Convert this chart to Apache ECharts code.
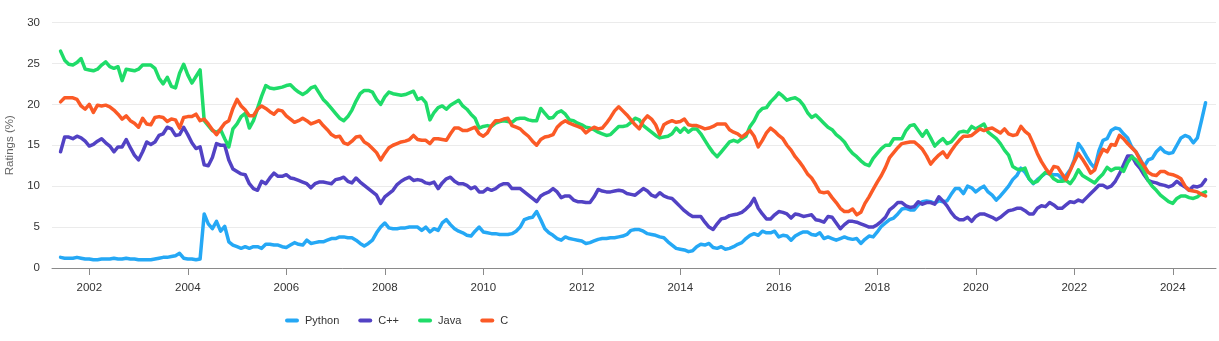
<!DOCTYPE html>
<html>
<head>
<meta charset="utf-8">
<script src="https://cdn.jsdelivr.net/npm/echarts@6/dist/echarts.min.js"></script>
<style>
html,body{margin:0;padding:0;background:#fff;}
#chart{width:1219px;height:341px;}
</style>
</head>
<body>
<div id="chart"></div>
<script>
// Monthly samples, first month = June 2001
const startYear = 2001;
const startMonth = 6;
const seriesNames = ['Python', 'C++', 'Java', 'C'];
const yearTicks = [2002, 2004, 2006, 2008, 2010, 2012, 2014, 2016, 2018, 2020, 2022, 2024];
const yTicks = [0, 5, 10, 15, 20, 25, 30];

const python = [
1.3,1.2,1.2,1.2,1.3,1.2,1.1,1.1,1.0,1.0,1.1,1.1,
1.1,1.2,1.1,1.1,1.2,1.1,1.1,1.0,1.0,1.0,1.0,1.1,
1.2,1.3,1.3,1.4,1.5,1.8,1.2,1.1,1.1,1.0,1.1,6.6,
5.4,4.8,5.7,4.5,5.1,3.2,2.8,2.6,2.4,2.6,2.4,2.6,
2.6,2.4,2.9,2.9,2.8,2.8,2.6,2.5,2.8,3.1,2.9,2.8,
3.4,3.0,3.1,3.2,3.2,3.4,3.6,3.6,3.8,3.8,3.7,3.7,
3.4,3.0,2.7,3.0,3.4,4.3,5.0,5.5,4.9,4.8,4.8,4.9,
4.9,5.0,5.0,5.0,4.6,5.0,4.4,4.8,4.6,5.5,5.9,5.3,
4.8,4.5,4.3,4.0,3.9,4.5,5.0,4.4,4.3,4.2,4.2,4.1,
4.1,4.1,4.2,4.5,5.0,5.9,6.1,6.2,6.9,5.9,4.8,4.3,
4.0,3.6,3.4,3.8,3.6,3.5,3.4,3.3,3.0,3.1,3.3,3.5,
3.6,3.6,3.7,3.7,3.8,3.9,4.1,4.6,4.7,4.7,4.5,4.2,
4.1,4.0,3.8,3.7,3.2,2.8,2.4,2.3,2.2,2.0,2.1,2.6,
2.9,2.8,3.0,2.5,2.4,2.6,2.3,2.4,2.6,2.9,3.1,3.6,
4.0,4.2,4.0,4.5,4.3,4.3,4.5,3.8,4.0,3.9,3.4,3.9,
4.2,4.4,4.4,4.1,4.0,4.3,3.6,3.8,3.6,3.4,3.6,3.8,
3.6,3.5,3.6,3.0,3.5,3.9,3.8,4.4,5.1,5.5,5.9,6.1,
6.6,7.2,7.3,7.1,7.1,7.7,8.1,8.2,8.1,7.9,8.2,8.1,
8.2,9.0,9.7,9.7,9.1,10.0,9.8,9.3,9.7,10.0,9.3,8.9,
8.3,8.8,9.4,10.0,10.8,11.3,12.2,11.7,10.9,10.3,10.8,11.2,
11.6,11.5,11.4,11.4,10.9,11.3,12.0,13.2,15.2,14.5,13.6,12.8,
12.2,14.3,15.6,15.8,16.8,17.1,17.0,16.4,15.9,14.8,14.2,13.4,
12.4,13.2,13.4,14.2,14.7,14.2,14.0,14.1,15.0,15.9,16.2,16.0,
15.3,15.9,18.0,20.2
];

const cpp = [
14.2,16.0,16.0,15.8,16.1,15.9,15.5,14.9,15.1,15.5,15.8,15.3,
14.9,14.2,14.8,14.8,15.7,14.7,13.8,13.2,14.2,15.4,15.1,15.4,
16.2,16.4,17.2,17.0,16.2,16.3,17.2,16.3,15.3,14.6,14.8,12.6,
12.5,13.5,15.2,15.0,15.0,13.2,12.1,11.8,11.5,11.4,10.3,9.7,
9.5,10.6,10.3,11.0,11.6,11.2,11.2,11.4,11.0,10.9,10.7,10.5,
10.3,9.8,10.3,10.5,10.5,10.4,10.3,10.8,10.9,11.1,10.6,10.4,
11.0,10.5,10.1,9.7,9.3,8.9,7.9,8.7,9.1,9.5,10.2,10.6,
10.9,11.1,10.7,10.8,10.7,10.4,10.3,10.5,9.7,10.4,10.9,11.1,
10.6,10.3,10.3,10.1,9.7,9.9,9.3,9.3,9.7,9.5,9.7,10.1,
10.3,10.3,9.7,9.7,9.7,9.3,8.9,8.5,8.1,8.8,9.1,9.3,
9.7,9.3,8.6,8.8,8.8,8.3,8.1,8.1,8.0,8.0,8.7,9.6,
9.4,9.3,9.3,9.4,9.5,9.4,9.1,9.0,8.9,9.3,9.7,9.4,
8.9,8.7,9.2,8.8,8.6,8.5,8.0,7.5,7.0,6.6,6.3,6.3,
6.3,5.6,5.0,4.7,5.4,6.0,6.1,6.4,6.5,6.6,6.8,7.2,
7.7,8.5,7.3,6.6,6.0,6.0,6.5,6.9,6.8,6.6,6.1,6.6,
6.5,6.3,6.4,6.5,5.9,5.8,5.6,6.3,6.2,5.5,4.8,5.3,
5.7,5.7,5.6,5.4,5.2,5.0,5.0,5.3,5.7,6.2,7.1,7.5,
8.0,8.0,7.6,7.4,7.5,8.1,7.8,8.0,8.0,7.8,8.7,8.2,
7.6,6.8,6.2,5.9,5.9,6.2,5.7,6.3,6.6,6.6,6.4,6.2,
5.9,6.2,6.6,7.0,7.1,7.3,7.3,7.0,6.6,6.6,7.3,7.6,
7.5,8.0,7.7,7.3,7.3,7.7,8.1,8.0,8.3,8.1,8.6,9.1,
9.6,10.1,10.1,9.8,10.0,10.6,11.5,12.6,13.7,13.7,12.8,12.2,
11.4,10.7,10.5,10.4,10.2,10.1,9.9,10.1,10.6,10.2,9.9,9.5,
10.0,9.9,10.1,10.8
];

const java = [
26.5,25.4,24.9,24.8,25.1,25.6,24.3,24.2,24.1,24.3,24.8,25.2,
24.6,24.4,24.6,22.9,24.3,24.2,24.1,24.3,24.8,24.8,24.8,24.4,
23.2,22.5,23.3,22.2,22.0,23.8,24.9,23.6,22.6,23.4,24.2,18.0,
17.4,16.8,16.6,16.9,15.8,14.8,17.0,17.6,18.5,18.9,17.1,18.0,
19.5,21.0,22.3,22.0,21.9,22.0,22.1,22.3,22.4,21.9,21.5,21.2,
21.5,22.0,22.2,21.4,20.6,20.1,19.5,18.9,18.3,18.0,18.5,19.3,
20.4,21.3,21.7,21.7,21.5,20.6,20.0,20.9,21.5,21.3,21.2,21.1,
21.2,21.4,21.6,20.6,20.8,20.2,18.1,19.0,19.6,19.8,19.4,19.9,
20.2,20.5,19.8,19.4,18.8,18.3,17.1,17.3,17.4,17.3,17.7,17.9,
18.0,17.9,17.8,18.2,18.3,18.3,18.1,18.0,18.0,19.5,18.9,18.3,
18.4,19.0,19.2,18.8,18.1,18.0,17.7,17.5,17.2,17.1,16.9,16.6,
16.4,16.2,16.3,16.8,17.3,17.3,17.4,17.8,18.3,18.1,17.4,17.0,
16.6,16.2,15.9,16.0,16.1,16.4,17.1,16.6,17.1,16.6,17.0,17.0,
16.4,15.6,14.8,14.1,13.6,14.2,14.8,15.4,15.6,15.4,15.8,16.1,
17.3,18.0,19.0,19.5,19.6,20.3,20.8,21.4,21.0,20.5,20.7,20.8,
20.5,19.9,19.0,18.4,18.7,18.2,17.7,17.2,16.9,16.3,15.9,15.4,
14.6,14.0,13.6,13.1,12.7,12.5,13.4,14.0,14.6,15.0,15.0,15.8,
15.8,15.8,16.8,17.4,17.5,16.8,16.1,16.8,15.9,14.9,15.4,15.8,
15.2,15.4,16.0,16.6,16.7,16.6,17.3,17.0,17.3,17.6,16.6,16.2,
15.8,15.2,14.4,13.8,12.4,12.1,12.0,12.2,10.9,10.4,10.6,11.2,
11.7,11.5,10.9,10.6,10.6,10.7,10.3,11.0,12.0,11.3,11.0,10.7,
10.4,11.0,11.5,12.3,11.9,12.2,12.2,11.8,12.9,13.6,13.2,12.6,
11.8,10.7,10.0,9.5,8.9,8.5,8.1,7.9,8.5,8.8,8.8,8.6,
8.5,8.7,9.1,9.3
];

const cLang = [
20.3,20.8,20.8,20.8,20.6,19.8,19.4,20.0,19.0,19.9,19.8,19.9,
19.7,19.3,18.8,18.2,18.6,18.0,17.7,17.2,18.3,17.6,17.5,18.4,
18.5,18.4,17.9,18.2,18.1,17.1,18.4,18.5,18.5,18.8,18.0,18.2,
17.6,16.9,16.3,17.0,17.7,18.0,19.5,20.6,19.8,19.3,18.6,18.6,
19.4,19.8,19.5,19.1,18.8,19.3,19.2,18.6,18.2,17.8,18.0,18.3,
18.0,17.6,17.8,18.0,17.4,16.9,16.3,16.0,16.1,15.3,15.1,15.5,
16.0,16.1,15.4,15.1,14.6,14.1,13.2,14.0,14.7,15.0,15.2,15.4,
15.5,15.7,16.2,15.7,15.6,15.6,15.2,15.8,15.8,15.7,15.6,16.4,
17.1,17.1,16.8,16.8,17.0,17.2,16.4,16.1,16.5,17.4,18.0,18.0,
18.2,18.3,17.4,17.2,17.0,16.5,16.1,15.5,15.0,15.7,16.0,16.1,
16.3,17.2,17.7,18.0,17.7,17.5,17.3,17.1,16.5,16.9,17.2,17.0,
17.1,17.7,18.4,19.2,19.7,19.2,18.7,18.1,17.5,17.0,18.0,18.6,
18.2,17.5,16.3,17.5,17.8,18.0,17.8,17.9,18.2,17.5,17.4,17.4,
17.2,17.0,17.1,17.3,17.6,17.6,17.6,16.9,16.6,16.4,16.0,16.4,
16.8,16.1,14.8,15.6,16.5,17.1,16.7,16.2,15.8,15.0,14.4,13.6,
13.0,12.3,11.5,11.0,10.2,9.3,9.2,9.3,8.6,8.0,7.3,6.9,
6.9,7.2,6.5,6.8,7.9,8.7,9.6,10.5,11.3,12.3,13.5,14.1,
14.7,15.2,15.3,15.4,15.4,15.0,14.5,13.7,12.7,13.3,13.8,14.2,
13.5,14.3,15.0,15.6,16.1,16.1,16.2,16.6,17.0,16.8,17.0,17.1,
16.8,16.5,17.0,16.4,16.2,16.3,17.3,16.7,16.3,15.2,14.0,13.0,
12.2,11.5,12.4,12.3,11.5,10.8,11.9,13.0,14.0,13.3,12.5,11.6,
12.0,13.5,14.5,14.2,15.1,15.0,16.2,15.8,15.2,14.7,14.2,13.2,
12.5,11.7,11.4,11.3,11.8,11.8,11.5,11.4,11.2,10.9,10.0,9.5,
9.4,9.3,9.0,8.8
];

const colors = ['#25A8F5', '#5242C4', '#1FDC69', '#FB5A26'];
const allValues = [python, cpp, java, cLang];

function toPairs(values) {
  return values.map((v, i) => [startYear + (startMonth - 1 + i) / 12, v]);
}

const chart = echarts.init(document.getElementById('chart'), null, { renderer: 'canvas' });
const fontFamily = '"Liberation Sans", Arial, sans-serif';

chart.setOption({
  animation: false,
  backgroundColor: '#fff',
  textStyle: { fontFamily: fontFamily },
  grid: { left: 52, right: 3, top: 22.5, bottom: 73, containLabel: false, outerBoundsMode: 'none' },
  legend: {
    data: seriesNames,
    left: 280,
    top: 310,
    itemWidth: 14,
    itemHeight: 4,
    itemGap: 19,
    icon: 'path://M2,0 L12,0 A2,2 0 0 1 12,4 L2,4 A2,2 0 0 1 2,0 Z',
    textStyle: { fontSize: 11, color: '#333', fontFamily: fontFamily, padding: [0, 0, 0, 1] }
  },
  xAxis: {
    type: 'value',
    min: 2001.243,
    max: 2024.878,
    axisLine: { show: true, lineStyle: { color: '#8a8a8a', width: 1 } },
    axisTick: { show: true, length: 7, customValues: yearTicks, lineStyle: { color: '#8a8a8a' } },
    axisLabel: {
      customValues: yearTicks,
      margin: 14,
      fontSize: 11.5,
      color: '#333',
      fontFamily: fontFamily,
      formatter: v => String(Math.round(v))
    },
    splitLine: { show: false }
  },
  yAxis: {
    type: 'value',
    min: 0,
    max: 30,
    interval: 5,
    name: 'Ratings (%)',
    nameLocation: 'middle',
    nameGap: 32,
    nameTextStyle: { fontSize: 11.5, color: '#666', fontFamily: fontFamily },
    axisLine: { show: false },
    axisTick: { show: false },
    axisLabel: { margin: 12, fontSize: 11.5, color: '#333', fontFamily: fontFamily },
    splitLine: { show: true, lineStyle: { color: '#ebebeb', width: 1 } }
  },
  series: seriesNames.map((name, k) => ({
    name: name,
    type: 'line',
    data: toPairs(allValues[k]),
    showSymbol: false,
    symbol: 'none',
    color: colors[k],
    lineStyle: { width: 3.5, color: colors[k], join: 'round', cap: 'round' },
    emphasis: { disabled: true }
  }))
});
</script>
</body>
</html>
